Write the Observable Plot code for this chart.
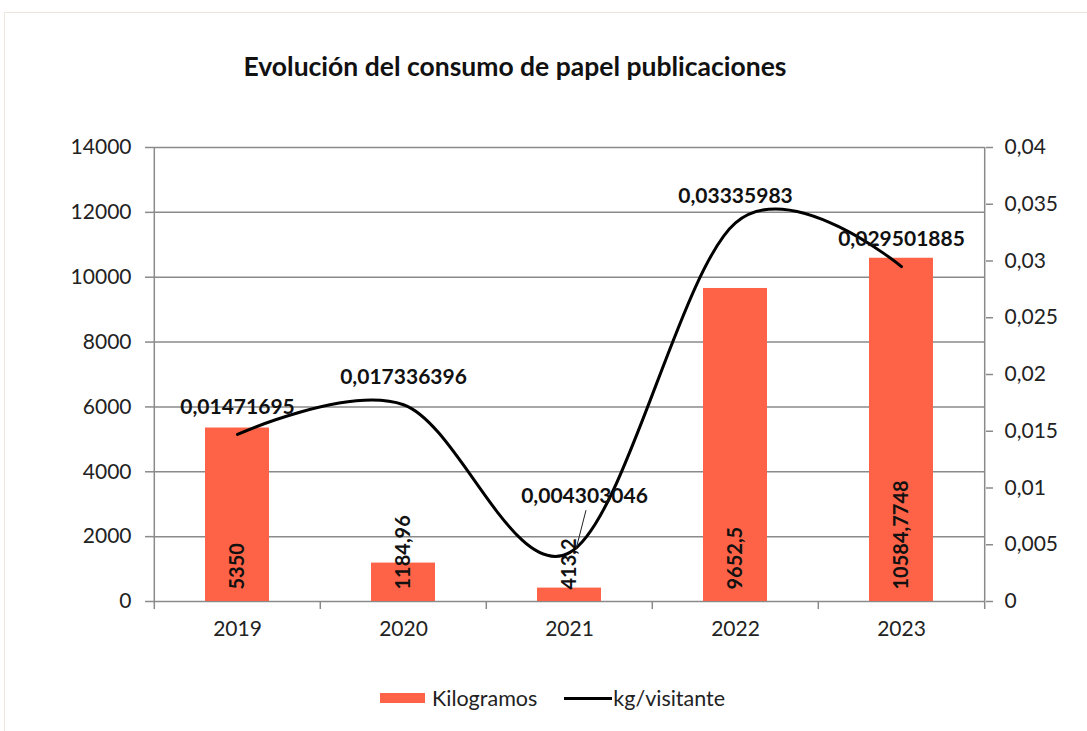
<!DOCTYPE html>
<html>
<head>
<meta charset="utf-8">
<script src="https://cdn.jsdelivr.net/npm/d3@7"></script>
<script src="https://cdn.jsdelivr.net/npm/@observablehq/plot@0.6"></script>
<style>
  html, body { margin: 0; padding: 0; background: #fff; }
  #wrap { position: relative; width: 1087px; height: 731px; overflow: hidden; font-family: Lato, "DejaVu Sans", sans-serif; }
  #border { position: absolute; left: 4px; top: 12px; width: 1200px; height: 800px; border: 1.5px solid #ebe7dc; box-sizing: border-box; }
  #title { position: absolute; left: 0; width: 1030px; top: 50px; text-align: center; font-weight: 700; font-size: 26.5px; color: #111; }
  #chart { position: absolute; left: 0; top: 0; }
  #legend { position: absolute; top: 685px; left: 380px; display: flex; align-items: center; font-size: 21.5px; color: #222; }
  .sw { width: 45px; height: 10px; background: #ff6347; margin-right: 7px; }
  .ln { width: 48px; height: 3px; background: #000; margin-left: 27px; margin-right: 1px; }
</style>
</head>
<body>
<div id="wrap">
  <div id="border"></div>
  <div id="chart"></div>
  <div id="title">Evolución del consumo de papel publicaciones</div>
  <div id="legend">
    <div class="sw"></div><span>Kilogramos</span>
    <div class="ln"></div><span>kg/visitante</span>
  </div>
</div>
<script>
// ---- data ----
const years = ["2019", "2020", "2021", "2022", "2023"];
const kilogramos = [5350, 1184.96, 413.2, 9652.5, 10584.7748];
const kgPorVisitante = [0.01471695, 0.017336396, 0.004303046, 0.03335983, 0.029501885];
const leftTicks = [0, 2000, 4000, 6000, 8000, 10000, 12000, 14000];
const rightTicks = [0, 0.005, 0.01, 0.015, 0.02, 0.025, 0.03, 0.035, 0.04];

// ---- helpers ----
const K = 14000 / 0.04; // map right axis onto left axis
const fmt = v => String(v).replace(".", ",");
const data = years.map((y, i) => ({year: y, kg: kilogramos[i], ratio: kgPorVisitante[i]}));
const grey = "#8a8a8a";

const W = 1087, H = 731, mL = 153, mR = 102, mT = 147, mB = 130;
const bw = (W - mL - mR) / years.length;

const leader = (index, scales) => {
  const d = data[2];
  const px = scales.x(d.year) + scales.x.bandwidth() / 2;
  const py = scales.y(d.ratio * K);
  const l = document.createElementNS("http://www.w3.org/2000/svg", "line");
  l.setAttribute("x1", px + 17); l.setAttribute("y1", py - 42);
  l.setAttribute("x2", px + 7); l.setAttribute("y2", py - 3);
  l.setAttribute("stroke", "#222"); l.setAttribute("stroke-width", 1);
  return l;
};

const chart = Plot.plot({
  width: W, height: H,
  marginTop: mT, marginBottom: mB, marginLeft: mL, marginRight: mR,
  style: {fontFamily: "Lato, sans-serif", fontSize: "21px", color: "#222", background: "transparent"},
  x: {type: "band", domain: years, padding: 0},
  y: {domain: [0, 14000]},
  marks: [
    Plot.ruleY(leftTicks, {stroke: grey, strokeWidth: 1.5}),
    Plot.barY(data, {x: "year", y: "kg", fill: "#ff6347", insetLeft: 51, insetRight: 51}),
    Plot.ruleX([years[0]], {x: d => d, dx: -bw / 2, stroke: grey, strokeWidth: 1.5, insetBottom: -8}),
    Plot.ruleX([years[years.length - 1]], {x: d => d, dx: bw / 2, stroke: grey, strokeWidth: 1.5, insetBottom: -8}),
    Plot.ruleX(years.slice(1), {x: d => d, dx: -bw / 2, stroke: grey, strokeWidth: 1.5, insetTop: H - mT - mB, insetBottom: -8}),
    Plot.axisY(leftTicks, {anchor: "left", tickSize: 8, tickPadding: 14, tickFormat: d => String(d), stroke: grey, strokeWidth: 1.5, label: null, fill: "#222"}),
    Plot.axisY(rightTicks.map(v => v * K), {anchor: "right", tickSize: 7, tickPadding: 12, tickFormat: (d, i) => fmt(rightTicks[i]), stroke: grey, strokeWidth: 1.5, label: null, fill: "#222", textAnchor: "start"}),
    Plot.axisX({tickSize: 0, tickPadding: 20, label: null, fill: "#222"}),
    Plot.text(data, {x: "year", y: 0, text: d => fmt(d.kg), rotate: -90, textAnchor: "start", dy: -12, fontSize: 20, fontWeight: 700, fill: "#111"}),
    Plot.line(data, {x: "year", y: d => d.ratio * K, curve: "cardinal", stroke: "#000", strokeWidth: 3}),
    Plot.text(data.filter((d, i) => i !== 2), {x: "year", y: d => d.ratio * K, text: d => fmt(d.ratio), dy: -27, fontSize: 21, fontWeight: 700, fill: "#111"}),
    Plot.text(data.filter((d, i) => i === 2), {x: "year", y: d => d.ratio * K, text: d => fmt(d.ratio), dy: -56, dx: 15, fontSize: 21, fontWeight: 700, fill: "#111"}),
    leader
  ]
});
document.getElementById("chart").appendChild(chart);
</script>
</body>
</html>
